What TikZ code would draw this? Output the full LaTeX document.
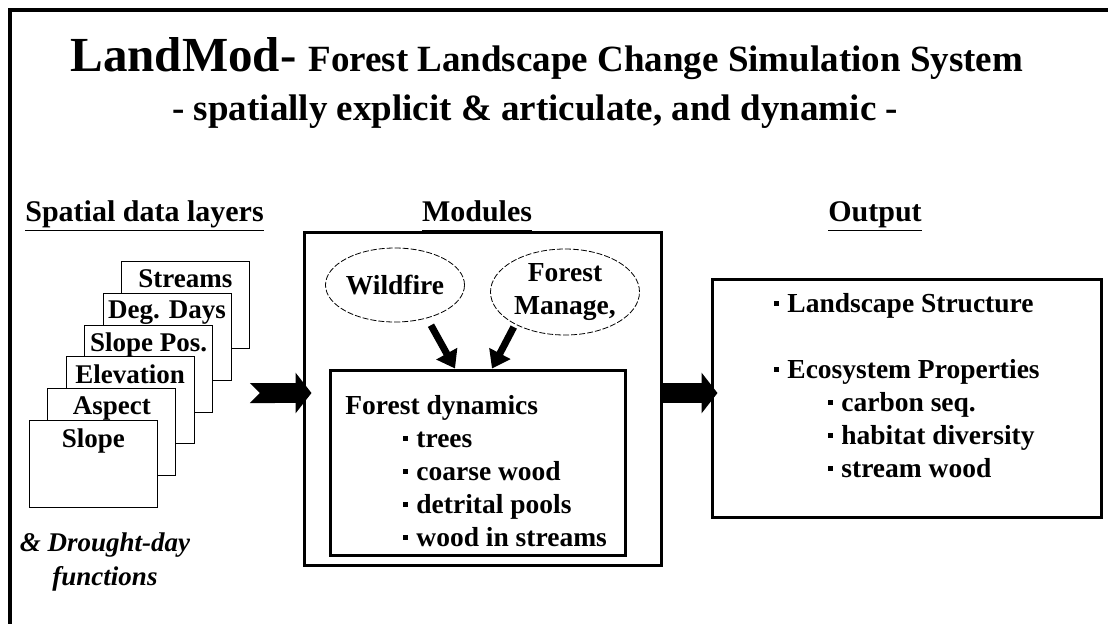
\documentclass[tikz,border=0pt]{standalone}
\usepackage{fontspec}
\setmainfont{Liberation Serif}
\usetikzlibrary{shapes.geometric, arrows.meta}

\tikzstyle{layer} = [rectangle, draw=black, fill=white, minimum width=64pt, minimum height=43.5pt, inner sep=0pt, anchor=north west]
\tikzstyle{module} = [ellipse, draw=black, thin, dash pattern=on 3pt off 1pt, inner sep=0pt, align=center, font=\fontsize{13.75}{16.5}\selectfont\bfseries]
\tikzstyle{box} = [rectangle, draw=black, line width=1.5pt, inner sep=0pt]
\tikzstyle{heading} = [anchor=base, inner sep=0pt, font=\fontsize{15}{18}\selectfont\bfseries]
\tikzstyle{body} = [anchor=base west, align=left, inner sep=0pt, font=\fontsize{13.75}{16.5}\selectfont\bfseries]
\tikzstyle{bigarrow} = [line width=10pt, -{Triangle[length=8pt, width=20pt]}]
\tikzstyle{arrow} = [line width=3.5pt, -{Triangle[length=8.5pt, width=11.5pt]}]

\newcommand{\itembullet}{\rule[0.22em]{2.5pt}{2.5pt}\hspace{4pt}}

\begin{document}
\begin{tikzpicture}[x=0.5pt, y=-0.5pt]
\useasboundingbox (0,0) rectangle (1108,623);
\draw [line width=2pt] (10,630) -- (10,10) -- (1115,10);

% title lines
\node (title) [anchor=base west, inner sep=0pt, font=\fontsize{24.5}{28}\selectfont\bfseries] at (70,71) {LandMod-};
\node (subject) [anchor=base west, inner sep=0pt, font=\fontsize{18.5}{22}\selectfont\bfseries] at (308,71) {Forest Landscape Change Simulation System};
\node (motto) [anchor=base west, inner sep=0pt, font=\fontsize{18.5}{22}\selectfont\bfseries] at (172,120) {- spatially explicit \& articulate, and dynamic -};

% column headings
\node (layers_head) [heading] at (144.5,221) {\underline{Spatial data layers}};
\node (modules_head) [heading] at (477,221) {\underline{Modules\vphantom{p}}};
\node (output_head) [heading] at (875,221) {\underline{Output}};

% stack of data layers, back to front
\foreach \name [count=\i from 0] in {Streams, Deg. Days, Slope Pos., Elevation, Aspect, Slope} {
  \node (layer\i) [layer] at ({121-18.4*\i},{261+31.8*\i}) {};
  \node (layer\i_name) [anchor=north, inner sep=0pt, font=\fontsize{13.5}{16}\selectfont\bfseries] at ([yshift=-4pt]layer\i.north) {\name};
}
\node (drought) [align=center, inner sep=0pt, font=\fontsize{13.5}{17}\selectfont\bfseries\itshape] at (105,562) {\& Drought-day\\functions};

% modules (base anchor sits on the last line)
\node (modules) [box, minimum width=178.5pt, minimum height=166.5pt] at (482.5,398.5) {};
\node (wildfire) [module, minimum width=69pt, minimum height=37pt] at (395,285) {Wildfire};
\node (manage) [module, minimum width=74.5pt, minimum height=43pt] at (565,292) {Forest\\Manage,};
\node (dynamics) [box, minimum width=147.5pt, minimum height=92.5pt] at (477.5,462.5) {};
\node (dynamics_text) [body] at (345,546) {Forest dynamics\\
  \hspace*{29pt}\itembullet trees\\
  \hspace*{29pt}\itembullet coarse wood\\
  \hspace*{29pt}\itembullet detrital pools\\
  \hspace*{29pt}\itembullet wood in streams};

% output
\node (output) [box, minimum width=194.5pt, minimum height=119pt] at (906.5,398) {};
\node (output_text) [body] at (774,477) {\itembullet Landscape Structure\\[16.5pt]
  \itembullet Ecosystem Properties\\
  \hspace*{27pt}\itembullet carbon seq.\\
  \hspace*{27pt}\itembullet habitat diversity\\
  \hspace*{27pt}\itembullet stream wood};

% flow arrows
\coordinate (flow) at (0,393);
\draw [bigarrow, {Triangle Cap[reversed]}-{Triangle[length=8pt, width=20pt]}, shorten >=-4.5pt] (layer0.east |- flow) -- (modules.west |- flow);
\draw [bigarrow, shorten >=-3.5pt] (modules.east |- flow) -- (output.west |- flow);
\draw [arrow, shorten <=4pt] (wildfire.-46) -- ([xshift=-11.25pt]dynamics.north);
\draw [arrow, shorten <=1.5pt] (manage.-147) -- ([xshift=7.25pt]dynamics.north);

\end{tikzpicture}
\end{document}
